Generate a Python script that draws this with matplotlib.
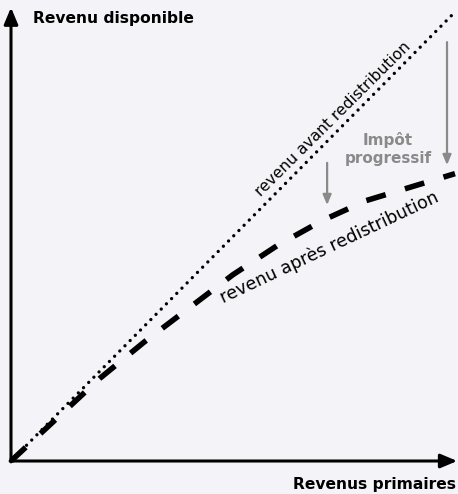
import matplotlib
matplotlib.use("Agg")
import matplotlib.pyplot as plt
import numpy as np

# Data (schematic, arbitrary units)
x_before = [0, 10]
y_before = [0, 10]
x_after = [0, 1, 2, 3, 4, 5, 6, 7, 8, 9, 10]
y_after = [0, 0.92, 1.84, 2.65, 3.40, 4.15, 4.80, 5.35, 5.80, 6.10, 6.40]

label_y = "Revenu disponible"
label_x = "Revenus primaires"
label_before = "revenu avant redistribution"
label_after = "revenu après redistribution"
label_tax = "Impôt\nprogressif"

BG = "#f4f4f8"
GRAY = "#8a8a8a"

W, H = 458, 494
fig = plt.figure(figsize=(W / 100, H / 100), dpi=100, facecolor=BG)
x0, x1 = 11, 455
y0, y1 = 461, 12
ax = fig.add_axes([x0 / W, (H - y0) / H, (x1 - x0) / W, (y0 - y1) / H])
ax.set_facecolor(BG)
ax.set_xlim(0, 10)
ax.set_ylim(0, 10)
ax.axis("off")

# axes with arrows
ax.annotate("", xy=(0, 10.1), xytext=(0, -0.02),
            arrowprops=dict(arrowstyle="-|>,head_length=1.0,head_width=0.42",
                            lw=2.2, color="black", shrinkA=0, shrinkB=0),
            annotation_clip=False)
ax.annotate("", xy=(10.05, 0), xytext=(-0.02, 0),
            arrowprops=dict(arrowstyle="-|>,head_length=1.0,head_width=0.42",
                            lw=2.2, color="black", shrinkA=0, shrinkB=0),
            annotation_clip=False)

# lines
ax.plot(x_before, y_before, color="black", lw=2.4,
        linestyle=(0, (0.01, 2.2)), dash_capstyle="round", clip_on=False)
lw_d = 4.0
ax.plot(x_after, y_after, color="black", lw=lw_d,
        linestyle=(0, (14.5 / lw_d, 14.5 / lw_d)), dash_capstyle="butt", clip_on=False)

# tax arrows
for xa, ys, ye in [(7.12, 6.64, 5.70), (9.82, 9.33, 6.59)]:
    ax.annotate("", xy=(xa, ye), xytext=(xa, ys),
                arrowprops=dict(arrowstyle="-|>,head_length=0.6,head_width=0.25",
                                lw=1.6, color=GRAY, shrinkA=0, shrinkB=0))

ax.text(8.49, 6.95, label_tax, color=GRAY, fontsize=11, fontweight="bold",
        ha="center", va="center", linespacing=1.3)

ax.text(7.25, 7.62, label_before, fontsize=11.2, rotation=44.8,
        rotation_mode="anchor", ha="center", va="center", color="black")
ax.text(7.18, 4.76, label_after, fontsize=12.6, rotation=25.3,
        rotation_mode="anchor", ha="center", va="center", color="black")

fig.text(33 / W, 1 - 19 / H, label_y, fontsize=11.2, fontweight="bold",
         ha="left", va="center")
fig.text(456 / W, 1 - 484 / H, label_x, fontsize=11.2, fontweight="bold",
         ha="right", va="center")

fig.savefig("out.png", dpi=100, facecolor=BG)
